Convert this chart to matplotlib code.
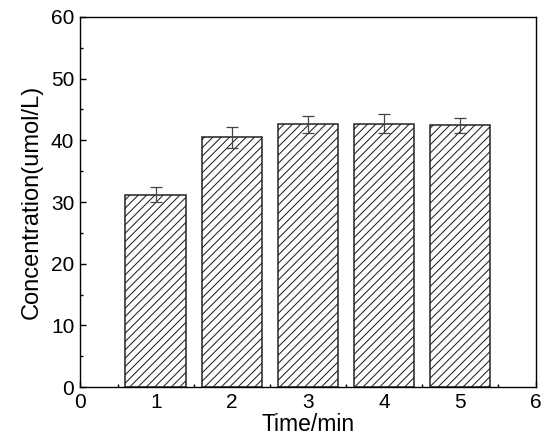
import matplotlib
matplotlib.use("Agg")
import matplotlib.pyplot as plt
from matplotlib.ticker import MultipleLocator

times = [1, 2, 3, 4, 5]
concentration = [31.2, 40.5, 42.6, 42.7, 42.4]
errors = [1.2, 1.7, 1.4, 1.6, 1.2]

plt.rcParams['font.family'] = ['Liberation Sans', 'DejaVu Sans']
plt.rcParams['hatch.linewidth'] = 0.75
plt.rcParams['hatch.color'] = '#4a4a4a'

fig = plt.figure(figsize=(5.47, 4.43), dpi=100)
ax = fig.add_axes([0.146, 0.126, 0.834, 0.836])

ax.bar(times, concentration, width=0.8, color='white', edgecolor='#222222',
       linewidth=1.1, hatch='////', zorder=2)
ax.errorbar(times, concentration, yerr=errors, fmt='none', ecolor='#444444',
            elinewidth=0.9, capsize=4, capthick=0.9, zorder=3)

ax.set_xlim(0, 6)
ax.set_ylim(0, 60)
ax.xaxis.set_major_locator(MultipleLocator(1))
ax.xaxis.set_minor_locator(MultipleLocator(0.5))
ax.yaxis.set_major_locator(MultipleLocator(10))
ax.yaxis.set_minor_locator(MultipleLocator(5))
ax.tick_params(which='both', direction='in', labelsize=15, width=1)
ax.tick_params(which='major', length=4, pad=4)
ax.tick_params(which='minor', length=2)
for s in ax.spines.values():
    s.set_linewidth(1.0)

ax.set_xlabel('Time/min', fontsize=16.5, labelpad=1)
ax.set_ylabel('Concentration(umol/L)', fontsize=17, labelpad=6)

fig.savefig('out.png', dpi=100)
